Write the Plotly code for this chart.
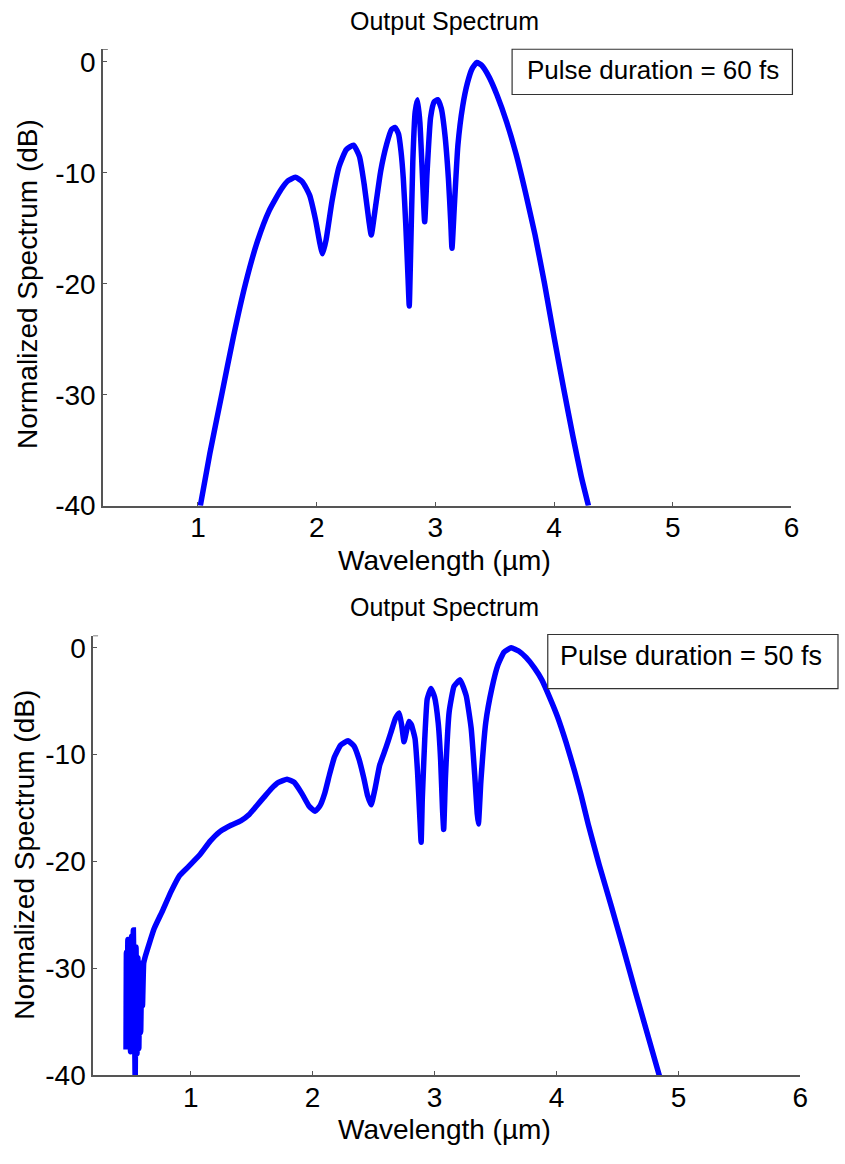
import plotly.graph_objects as go

# ---- 60 fs pulse (top panel) ----
wl_60fs = [1.02, 1.10, 1.20, 1.30, 1.40, 1.50, 1.60, 1.70, 1.76, 1.82, 1.88, 1.94,
           1.99, 2.03, 2.05, 2.08, 2.13, 2.19, 2.25, 2.31, 2.36, 2.40, 2.44, 2.46,
           2.49, 2.54, 2.59, 2.63, 2.66, 2.69, 2.71, 2.73, 2.75, 2.77, 2.78, 2.79,
           2.81, 2.83, 2.85, 2.87, 2.89, 2.91, 2.93, 2.96, 2.99, 3.02, 3.05, 3.08,
           3.11, 3.13, 3.14, 3.16, 3.19, 3.23, 3.27, 3.31, 3.35, 3.39, 3.45, 3.52,
           3.60, 3.68, 3.76, 3.84, 3.92, 4.00, 4.08, 4.16, 4.23, 4.29]
spec_60fs = [-40.0, -35.3, -30.0, -24.7, -20.0, -16.2, -13.4, -11.5, -10.7, -10.4, -10.8, -12.0,
             -14.2, -16.5, -17.3, -16.0, -12.5, -9.4, -7.9, -7.5, -8.5, -11.0, -14.3, -15.6,
             -13.5, -9.8, -7.4, -6.1, -5.9, -6.5, -8.0, -10.5, -14.5, -19.5, -22.0, -18.0,
             -9.0, -4.5, -3.4, -5.5, -10.0, -14.4, -10.0, -5.0, -3.6, -3.4, -4.2, -6.5,
             -10.5, -14.5, -16.8, -13.0, -7.5, -4.0, -1.9, -0.6, -0.05, -0.3, -1.3, -3.0,
             -5.4, -8.3, -11.8, -15.6, -20.0, -24.8, -29.4, -33.8, -37.4, -40.0]

# ---- 50 fs pulse (bottom panel) ----
wl_50fs = [0.470, 0.473, 0.478, 0.485, 0.492, 0.500, 0.507, 0.515, 0.522, 0.530, 0.538, 0.545,
           0.552, 0.560, 0.567, 0.575, 0.583, 0.590, 0.598, 0.605, 0.615, 0.625,
           0.70, 0.77, 0.84, 0.91, 0.98, 1.08, 1.16, 1.24, 1.33, 1.41, 1.48, 1.54,
           1.60, 1.66, 1.72, 1.79, 1.85, 1.91, 1.97, 2.02, 2.06, 2.10, 2.14, 2.18,
           2.23, 2.29, 2.34, 2.38, 2.42, 2.45, 2.48, 2.51, 2.55, 2.60, 2.64, 2.68,
           2.71, 2.73, 2.75, 2.77, 2.79, 2.81, 2.84, 2.86, 2.88, 2.89, 2.90, 2.92,
           2.94, 2.97, 3.00, 3.03, 3.05, 3.065, 3.075, 3.09, 3.12, 3.16, 3.21, 3.26,
           3.30, 3.33, 3.35, 3.36, 3.38, 3.42, 3.47, 3.52, 3.57, 3.63, 3.69, 3.75,
           3.82, 3.88, 3.95, 4.01, 4.08, 4.15, 4.20, 4.26, 4.35, 4.45, 4.55, 4.65, 4.75, 4.85]
spec_50fs = [-37.6, -28.5, -37.0, -27.3, -36.5, -29.0, -37.8, -27.0, -35.0, -26.4, -33.0, -40.5,
             -28.0, -38.0, -29.0, -37.5, -29.5, -36.0, -30.5, -33.5, -29.5, -29.0,
             -26.3, -24.6, -22.8, -21.3, -20.5, -19.3, -18.1, -17.2, -16.6, -16.2, -15.6, -14.8,
             -14.0, -13.2, -12.6, -12.3, -12.6, -13.6, -14.8, -15.3, -14.8, -13.6, -11.8, -10.2,
             -9.1, -8.7, -9.2, -10.4, -12.2, -13.8, -14.7, -13.3, -11.0, -9.4, -8.0, -6.6,
             -6.1, -7.2, -8.8, -7.8, -6.9, -7.2, -8.5, -11.5, -16.0, -18.2, -14.0, -8.5,
             -4.8, -3.8, -4.6, -7.0, -10.5, -15.0, -17.0, -12.0, -6.0, -3.6, -3.0, -4.5,
             -7.5, -12.0, -15.5, -16.5, -12.5, -7.0, -3.8, -1.6, -0.4, 0.0, -0.3, -0.9,
             -1.9, -3.0, -4.8, -6.5, -8.9, -11.6, -13.7, -16.5, -20.3, -24.2, -28.2, -32.3, -36.3, -40.3]

x_ticks = [1, 2, 3, 4, 5, 6]
y_ticks = [-40, -30, -20, -10, 0]
y_ticktext = ["-40", "-30", "-20", "-10", "0"]
legend_labels = ["Pulse duration = 60 fs", "Pulse duration = 50 fs"]

W, H = 845, 1164
FONT = "Arial, Liberation Sans, sans-serif"
AXIS_COL = "#555555"


def px(xp):
    return xp / W


def py(yp):
    return 1 - yp / H


fig = go.Figure()
fig.add_trace(go.Scatter(x=wl_60fs, y=spec_60fs, mode="lines", xaxis="x", yaxis="y",
                         line=dict(color="#0000ff", width=5.5, shape="spline", smoothing=0.5),
                         showlegend=False))
fig.add_trace(go.Scatter(x=wl_50fs, y=spec_50fs, mode="lines", xaxis="x2", yaxis="y2",
                         line=dict(color="#0000ff", width=5.5, shape="spline", smoothing=0.4),
                         showlegend=False))

common_x = dict(range=[0.2, 6], tickvals=x_ticks, showline=True, linecolor=AXIS_COL,
                linewidth=1.5, ticks="inside", ticklen=4, tickcolor=AXIS_COL,
                ticklabelstandoff=-4, showgrid=False, zeroline=False,
                tickfont=dict(size=28, color="black"))
common_y = dict(range=[-40, 1.15], tickvals=y_ticks, ticktext=y_ticktext, showline=True,
                linecolor=AXIS_COL, linewidth=1.5, ticks="inside", ticklen=4, tickcolor=AXIS_COL,
                showgrid=False, zeroline=False, tickfont=dict(size=28, color="black"))

fig.update_layout(
    width=W, height=H,
    margin=dict(l=0, r=0, t=0, b=0),
    paper_bgcolor="white", plot_bgcolor="white",
    font=dict(family=FONT, color="black"),
    xaxis=dict(common_x, domain=[px(104), px(799)], anchor="y"),
    yaxis=dict(common_y, domain=[py(511), py(47)], anchor="x"),
    xaxis2=dict(common_x, domain=[px(94), px(808)], anchor="y2"),
    yaxis2=dict(common_y, domain=[py(1090), py(643)], anchor="x2"),
)

# titles, axis labels, legend boxes
annotations = []
for title_y, xlab_y, ylab_x, ylab_y in [(18, 567, 28, 286), (614, 1145, 25, 866)]:
    annotations.append(dict(text="Output Spectrum", x=px(449), y=py(title_y), xref="paper", yref="paper",
                            showarrow=False, font=dict(size=25), xanchor="center", yanchor="middle"))
    annotations.append(dict(text="Wavelength (µm)", x=px(449), y=py(xlab_y), xref="paper", yref="paper",
                            showarrow=False, font=dict(size=28), xanchor="center", yanchor="middle"))
    annotations.append(dict(text="Normalized Spectrum (dB)", x=px(ylab_x), y=py(ylab_y), xref="paper",
                            yref="paper", showarrow=False, font=dict(size=28), textangle=-90,
                            xanchor="center", yanchor="middle"))

shapes = []
for (x0, y0, x1, y1, tx, ty, fs), label in zip([(517, 47, 800, 93, 530, 68, 26),
                                                 (553, 642, 846, 697, 563, 664, 27)], legend_labels):
    shapes.append(dict(type="rect", xref="paper", yref="paper", x0=px(x0), x1=px(x1),
                       y0=py(y1), y1=py(y0), line=dict(color="#333333", width=1.2),
                       fillcolor="white", layer="above"))
    annotations.append(dict(text=label, x=px(tx), y=py(ty), xref="paper", yref="paper",
                            showarrow=False, font=dict(size=fs), xanchor="left", yanchor="middle"))

# small end-mark at the top of each y-axis
for xr, yr in [("x domain", "y"), ("x2 domain", "y2")]:
    shapes.append(dict(type="line", xref=xr, yref=yr, x0=0, x1=0.007, y0=1.15, y1=1.15,
                       line=dict(color=AXIS_COL, width=1.5)))

fig.update_layout(annotations=annotations, shapes=shapes)

fig.write_html("out.html", config={"displayModeBar": False},
               post_script="document.body.style.margin='0';")
